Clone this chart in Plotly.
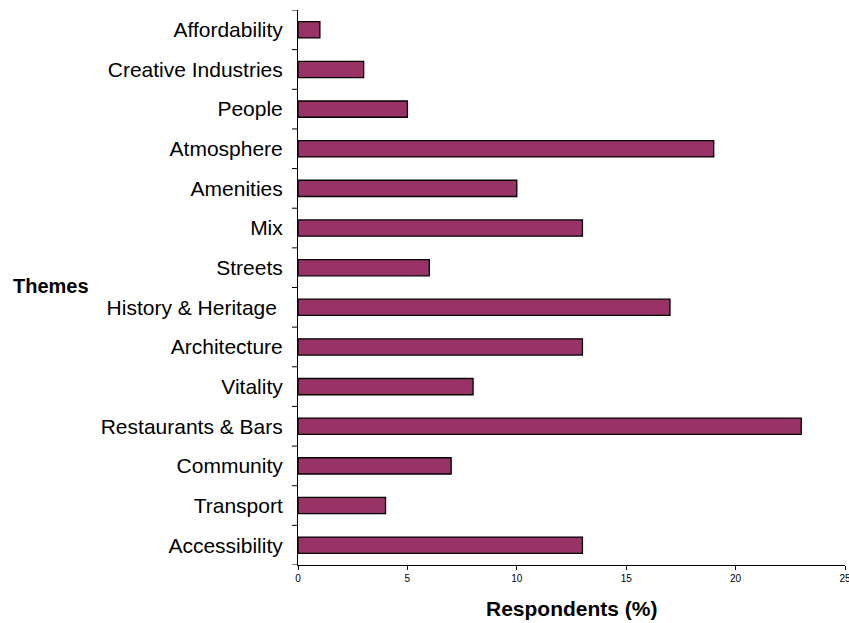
import plotly.graph_objects as go

categories = ["Accessibility", "Transport", "Community", "Restaurants & Bars", "Vitality",
              "Architecture", "History & Heritage ", "Streets", "Mix", "Amenities",
              "Atmosphere", "People", "Creative Industries", "Affordability"]
values = [13, 4, 7, 23, 8, 13, 17, 6, 13, 10, 19, 5, 3, 1]
x_ticks = [0, 5, 10, 15, 20, 25]

W, H = 849, 623
L, R, T, B = 298, 4, 10, 58
pw, ph = W - L - R, H - T - B

fig = go.Figure(go.Bar(
    y=categories, x=values, orientation="h",
    marker=dict(color="#993366", line=dict(color="black", width=1.3)),
    width=0.41,
))

fig.update_layout(
    width=W, height=H,
    margin=dict(l=L, r=R, t=T, b=B, autoexpand=False),
    plot_bgcolor="white", paper_bgcolor="white",
    showlegend=False,
    font=dict(family="Liberation Sans, Arial, sans-serif", color="black"),
    xaxis=dict(range=[0, 25], tickvals=x_ticks, ticktext=[str(v) for v in x_ticks],
               showgrid=False, zeroline=False, showline=True, linecolor="black", linewidth=1,
               ticks="outside", ticklen=4, tickcolor="black", tickfont=dict(size=10),
               ticklabeloverflow="allow", automargin=False),
    yaxis=dict(range=[-0.5, 13.5], showgrid=False, zeroline=False, showline=True,
               linecolor="black", linewidth=1, ticks="", tickfont=dict(size=21),
               ticklabelstandoff=10, automargin=False),
    annotations=[
        dict(text="<b>Themes</b>", xref="paper", yref="paper",
             x=(11 - L) / pw, y=(H - B - 286) / ph, xanchor="left", yanchor="middle",
             showarrow=False, font=dict(size=20)),
        dict(text="<b>Respondents (%)</b>", xref="paper", yref="paper",
             x=(572 - L) / pw, y=-(608 - (H - B)) / ph, xanchor="center", yanchor="middle",
             showarrow=False, font=dict(size=21)),
    ],
)

# category boundary ticks on y axis
shapes = []
for i in range(15):
    yv = -0.5 + i
    shapes.append(dict(type="line", xref="paper", yref="y", x0=-6 / pw, x1=0,
                       y0=yv, y1=yv, line=dict(color="black", width=1)))
fig.update_layout(shapes=shapes)

fig.write_html("out.html")
